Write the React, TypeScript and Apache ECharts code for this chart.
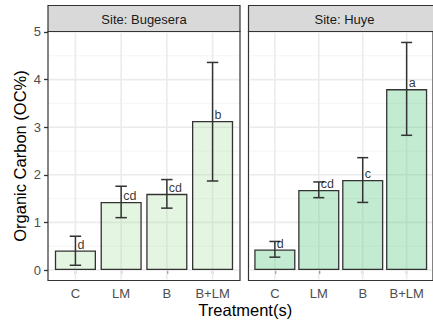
import React, { useEffect, useRef } from 'react';
import * as echarts from 'echarts';

// ---- data ----
const categories = ['C', 'LM', 'B', 'B+LM'];
const categoryPositions = [1, 2, 3, 4];
const siteNames = ['Site: Bugesera', 'Site: Huye'];

const bugeseraMeans = [0.41, 1.43, 1.6, 3.13];
const bugeseraLower = [0.1, 1.1, 1.3, 1.87];
const bugeseraUpper = [0.71, 1.76, 1.9, 4.36];
const bugeseraLetters = ['d', 'cd', 'cd', 'b'];

const huyeMeans = [0.43, 1.68, 1.89, 3.8];
const huyeLower = [0.27, 1.52, 1.42, 2.83];
const huyeUpper = [0.6, 1.85, 2.36, 4.78];
const huyeLetters = ['d', 'cd', 'c', 'a'];

const yTicks = [0, 1, 2, 3, 4, 5];
const yMinorTicks = [0.5, 1.5, 2.5, 3.5, 4.5];

const yTitle = 'Organic Carbon (OC%)';
const xTitle = 'Treatment(s)';

// ---- layout / style ----
const FONT = '"Liberation Sans", Arial, Helvetica, sans-serif';
const X_MIN = 0.4;
const X_MAX = 4.6;
const Y_MIN = -0.22;
const Y_MAX = 5.01;
const PANEL_TOP = 31.5;
const PANEL_W = 192;
const PANEL_H = 249;
const STRIP_TOP = 5.5;
const PANEL_LEFTS = [48, 248.5];
const FILLS = ['rgba(165, 226, 155, 0.3)', 'rgba(102, 205, 140, 0.4)'];
const DARK = '#333333';
const TEXT_DARK = '#000000';

const panels = [
  { means: bugeseraMeans, lower: bugeseraLower, upper: bugeseraUpper, letters: bugeseraLetters },
  { means: huyeMeans, lower: huyeLower, upper: huyeUpper, letters: huyeLetters },
];

function gridLineRender(params: any, api: any) {
  const kind = api.value(0);
  const v = api.value(1);
  const cs = params.coordSys;
  if (kind === 2) {
    const px = api.coord([v, 0])[0];
    return {
      type: 'line',
      shape: { x1: px, y1: cs.y + 1, x2: px, y2: cs.y + cs.height - 1 },
      style: { stroke: '#ebebeb', lineWidth: 1.6 },
    };
  }
  const py = api.coord([1, v])[1];
  return {
    type: 'line',
    shape: { x1: cs.x + 1, y1: py, x2: cs.x + cs.width - 1, y2: py },
    style: kind === 0 ? { stroke: '#ebebeb', lineWidth: 1.6 } : { stroke: '#f3f3f3', lineWidth: 0.9 },
  };
}

function buildOption() {
  const grid = PANEL_LEFTS.map((left) => ({
    left,
    top: PANEL_TOP,
    width: PANEL_W,
    height: PANEL_H,
    show: true,
    backgroundColor: '#ffffff',
    borderColor: DARK,
    borderWidth: 1.2,
  }));

  const xAxis = PANEL_LEFTS.map((_, i) => ({
    type: 'value',
    gridIndex: i,
    min: X_MIN,
    max: X_MAX,
    axisLine: { show: false },
    splitLine: { show: false },
    axisTick: { show: true, customValues: categoryPositions, length: 4, lineStyle: { color: DARK, width: 1.3 } },
    axisLabel: {
      customValues: categoryPositions,
      formatter: (v: number) => categories[Math.round(v) - 1] ?? '',
      color: '#4d4d4d',
      fontSize: 13,
      fontFamily: FONT,
      margin: 6,
    },
  }));

  const yAxis = PANEL_LEFTS.map((_, i) => ({
    type: 'value',
    gridIndex: i,
    min: Y_MIN,
    max: Y_MAX,
    axisLine: { show: false },
    splitLine: { show: false },
    axisTick:
      i === 0
        ? { show: true, customValues: yTicks, length: 4, lineStyle: { color: DARK, width: 1.3 } }
        : { show: false },
    axisLabel:
      i === 0
        ? { customValues: yTicks, color: '#4d4d4d', fontSize: 13, fontFamily: FONT, margin: 7 }
        : { show: false },
  }));

  const series: any[] = [];
  panels.forEach((p, i) => {
    const gridData = [
      ...yTicks.map((v) => [0, v]),
      ...yMinorTicks.map((v) => [1, v]),
      ...categoryPositions.map((v) => [2, v]),
    ];
    series.push({
      type: 'custom',
      xAxisIndex: i,
      yAxisIndex: i,
      z: 1,
      silent: true,
      itemStyle: { color: '#ebebeb' },
      data: gridData,
      renderItem: gridLineRender,
    });
    series.push({
      type: 'bar',
      xAxisIndex: i,
      yAxisIndex: i,
      z: 2,
      silent: true,
      barWidth: (0.9 * PANEL_W) / (X_MAX - X_MIN),
      data: categoryPositions.map((x, k) => [x, p.means[k]]),
      itemStyle: { color: FILLS[i], borderColor: DARK, borderWidth: 1.3 },
    });
    series.push({
      type: 'custom',
      xAxisIndex: i,
      yAxisIndex: i,
      z: 3,
      silent: true,
      itemStyle: { color: DARK },
      data: categoryPositions.map((x, k) => [x, p.lower[k], p.upper[k], p.means[k], k]),
      renderItem: (params: any, api: any) => {
        const x = api.value(0);
        const lo = api.coord([x, api.value(1)]);
        const hi = api.coord([x, api.value(2)]);
        const half = api.size([0.125, 0])[0];
        const ls = { stroke: DARK, lineWidth: 1.5 };
        return {
          type: 'group',
          children: [
            { type: 'line', shape: { x1: lo[0], y1: lo[1], x2: hi[0], y2: hi[1] }, style: ls },
            { type: 'line', shape: { x1: lo[0] - half, y1: lo[1], x2: lo[0] + half, y2: lo[1] }, style: ls },
            { type: 'line', shape: { x1: hi[0] - half, y1: hi[1], x2: hi[0] + half, y2: hi[1] }, style: ls },
          ],
        };
      },
    });
    // significance letters
    series.push({
      type: 'scatter',
      xAxisIndex: i,
      yAxisIndex: i,
      z: 4,
      silent: true,
      symbolSize: 0,
      itemStyle: { color: 'transparent' },
      data: categoryPositions.map((x, k) => ({
        value: [x, p.means[k]],
        label: { formatter: p.letters[k] },
      })),
      label: {
        show: true,
        position: 'insideBottomLeft',
        distance: 0,
        offset: [2, 0.5],
        color: TEXT_DARK,
        fontSize: 12.5,
        fontFamily: FONT,
        align: 'left',
        verticalAlign: 'bottom',
      },
    });
  });

  const graphic: any[] = [];
  PANEL_LEFTS.forEach((left, i) => {
    graphic.push({
      type: 'rect',
      shape: { x: left, y: STRIP_TOP, width: PANEL_W, height: PANEL_TOP - STRIP_TOP },
      style: { fill: '#d9d9d9', stroke: DARK, lineWidth: 1.2 },
      z: 10,
    });
    graphic.push({
      type: 'text',
      x: left + PANEL_W / 2,
      y: (STRIP_TOP + PANEL_TOP) / 2 + 0.5,
      style: {
        text: siteNames[i],
        fontSize: 13,
        fontFamily: FONT,
        fill: '#1a1a1a',
        align: 'center',
        verticalAlign: 'middle',
      },
      z: 11,
    });
  });
  graphic.push({
    type: 'text',
    x: 19.5,
    y: PANEL_TOP + PANEL_H / 2,
    rotation: Math.PI / 2,
    style: {
      text: yTitle,
      fontSize: 16.5,
      fontFamily: FONT,
      fill: '#000000',
      align: 'center',
      verticalAlign: 'middle',
    },
  });
  graphic.push({
    type: 'text',
    x: (PANEL_LEFTS[0] + PANEL_LEFTS[1] + PANEL_W) / 2 + 1,
    y: 309.5,
    style: {
      text: xTitle,
      fontSize: 16.5,
      fontFamily: FONT,
      fill: '#000000',
      align: 'center',
      verticalAlign: 'middle',
    },
  });

  return {
    animation: false,
    backgroundColor: '#ffffff',
    grid,
    xAxis,
    yAxis,
    series,
    graphic,
  };
}

export default function App() {
  const ref = useRef<HTMLDivElement>(null);
  useEffect(() => {
    if (!ref.current) return;
    const chart = echarts.init(ref.current, undefined, { renderer: 'svg' });
    chart.setOption(buildOption() as any);
    return () => chart.dispose();
  }, []);
  return (
    <div
      ref={ref}
      style={{ position: 'fixed', left: 0, top: 0, width: 433, height: 326, background: '#ffffff' }}
    />
  );
}
